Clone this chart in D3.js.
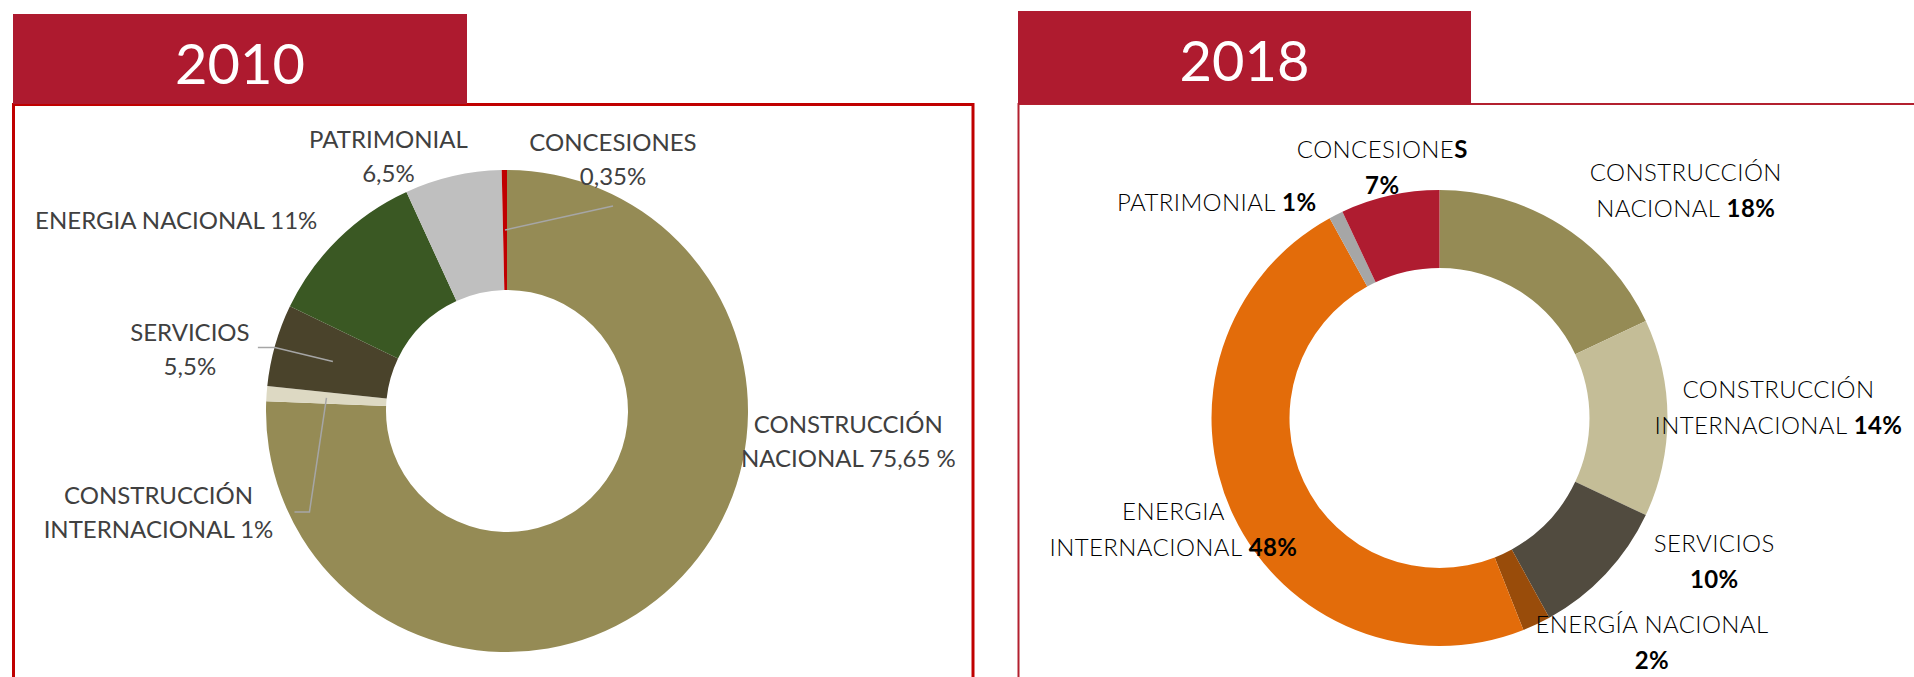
<!DOCTYPE html>
<html lang="es">
  <head>
    <meta charset="utf-8" />
    <title>Cartera por actividad 2010 / 2018</title>
    <script type="text/javascript" src="https://cdn.jsdelivr.net/npm/d3@7"></script>
    <style>
      body {
        margin: 0;
        background: #fff;
      }
      text {
        font-family: Lato, "Open Sans", sans-serif;
      }
      .year {
        fill: #fff;
        font-size: 56px;
      }
      .lbl2010 {
        fill: #404040;
        font-size: 24px;
      }
      .lbl2018 {
        fill: #000;
        font-size: 24px;
        font-weight: 300;
        letter-spacing: 0.4px;
      }
      .bold {
        font-weight: 700;
      }
      .leader {
        fill: none;
        stroke: #a6a6a6;
        stroke-width: 1.5px;
      }
    </style>
  </head>

  <body>
    <script>
      let w = 1914;
      let h = 677;

      // 2010
      let cats2010 = [
        "CONSTRUCCIÓN NACIONAL",
        "CONSTRUCCIÓN INTERNACIONAL",
        "SERVICIOS",
        "ENERGIA NACIONAL",
        "PATRIMONIAL",
        "CONCESIONES",
      ];
      let vals2010 = [75.65, 1, 5.5, 11, 6.5, 0.35];
      // each line: [normal part, bold part]
      let labels2010 = [
        [["CONSTRUCCIÓN", ""], ["NACIONAL 75,65 %", ""]],
        [["CONSTRUCCIÓN", ""], ["INTERNACIONAL 1%", ""]],
        [["SERVICIOS", ""], ["5,5%", ""]],
        [["ENERGIA NACIONAL 11%", ""]],
        [["PATRIMONIAL", ""], ["6,5%", ""]],
        [["CONCESIONES", ""], ["0,35%", ""]],
      ];

      // 2018
      let cats2018 = [
        "CONSTRUCCIÓN NACIONAL",
        "CONSTRUCCIÓN INTERNACIONAL",
        "SERVICIOS",
        "ENERGÍA NACIONAL",
        "ENERGIA INTERNACIONAL",
        "PATRIMONIAL",
        "CONCESIONES",
      ];
      let vals2018 = [18, 14, 10, 2, 48, 1, 7];
      let labels2018 = [
        [["CONSTRUCCIÓN", ""], ["NACIONAL ", "18%"]],
        [["CONSTRUCCIÓN", ""], ["INTERNACIONAL ", "14%"]],
        [["SERVICIOS", ""], ["", "10%"]],
        [["ENERGÍA NACIONAL", ""], ["", "2%"]],
        [["ENERGIA", ""], ["INTERNACIONAL ", "48%"]],
        [["PATRIMONIAL ", "1%"]],
        [["CONCESIONE", "S"], ["", "7%"]],
      ];

      let colors2010 = ["#958b55", "#ddd9c3", "#4a432b", "#3a5823", "#bfbfbf", "#c00000"];
      let colors2018 = ["#958b55", "#c4bd97", "#514b3f", "#994c0a", "#e36c0a", "#a6a6a6", "#af1c30"];

      // label placement: offset of the first baseline from the slice centroid,
      // optional leader line points (also relative to the centroid)
      let layout2010 = [
        { dx: 216, dy: -109 },
        { dx: -168, dy: 106, leader: [[-17, 114], [-32, 114]] },
        { dx: -143, dy: -21, leader: [[-58, -14], [-75, -14]] },
        { dx: -204, dy: -53 },
        { dx: -78, dy: -87 },
        { dx: 108, dy: -79, leader: [[108, -24]] },
      ];
      let layout2018 = [
        { dx: 145, dy: -77 },
        { dx: 150, dy: -20 },
        { dx: 137, dy: 5 },
        { dx: 132, dy: 44 },
        { dx: -95, dy: 22 },
        { dx: -137, dy: -39 },
        { dx: -16, dy: -76 },
      ];

      let svg = d3
        .select("body")
        .append("svg")
        .attr("width", w)
        .attr("height", h);

      function panel(opt) {
        // frame
        svg
          .append("rect")
          .attr("x", opt.frame[0])
          .attr("y", opt.frame[1])
          .attr("width", opt.frame[2])
          .attr("height", 700)
          .attr("fill", "none")
          .attr("stroke", opt.frameColor)
          .attr("stroke-width", opt.frameWidth);

        // year tab
        svg
          .append("rect")
          .attr("x", opt.tab[0])
          .attr("y", opt.tab[1])
          .attr("width", opt.tab[2])
          .attr("height", opt.tab[3])
          .attr("fill", opt.tabColor);

        svg
          .append("text")
          .attr("class", "year")
          .attr("x", opt.tab[0] + opt.tab[2] / 2)
          .attr("y", opt.yearY)
          .attr("text-anchor", "middle")
          .text(opt.year);

        let data = opt.cats.map((c, i) => ({ cat: c, v: opt.vals[i], i: i }));

        let pie = d3
          .pie()
          .sort(null)
          .value((d) => d.v);

        let arc = d3.arc().innerRadius(opt.r0).outerRadius(opt.r1);

        let g = svg
          .append("g")
          .attr("transform", `translate(${opt.cx},${opt.cy})`);

        let arcs = pie(data);

        g.selectAll("path.slice")
          .data(arcs)
          .join("path")
          .attr("class", "slice")
          .attr("d", arc)
          .attr("fill", (d) => opt.colors[d.data.i]);

        // leader lines
        arcs.forEach((d) => {
          let lay = opt.layout[d.data.i];
          if (!lay.leader) return;
          let c = arc.centroid(d);
          let pts = [c].concat(lay.leader.map((p) => [c[0] + p[0], c[1] + p[1]]));
          g.append("path").attr("class", "leader").attr("d", d3.line()(pts));
        });

        // labels
        arcs.forEach((d) => {
          let lay = opt.layout[d.data.i];
          let c = arc.centroid(d);
          let x = c[0] + lay.dx;
          let t = g
            .append("text")
            .attr("class", opt.lblClass)
            .attr("text-anchor", "middle")
            .attr("x", x)
            .attr("y", c[1] + lay.dy);
          opt.labels[d.data.i].forEach((line, k) => {
            let row = t
              .append("tspan")
              .attr("x", x)
              .attr("dy", k === 0 ? 0 : opt.lineH);
            if (line[0]) row.append("tspan").text(line[0]);
            if (line[1]) row.append("tspan").attr("class", "bold").text(line[1]);
          });
        });
      }

      panel({
        year: "2010",
        cats: cats2010,
        vals: vals2010,
        labels: labels2010,
        colors: colors2010,
        layout: layout2010,
        cx: 507,
        cy: 411,
        r0: 121,
        r1: 241,
        frame: [13.5, 104.5, 959.5],
        frameColor: "#c00000",
        frameWidth: 3,
        tab: [13, 14, 454, 90],
        tabColor: "#ae1a2f",
        yearY: 84,
        lblClass: "lbl2010",
        lineH: 34,
      });

      panel({
        year: "2018",
        cats: cats2018,
        vals: vals2018,
        labels: labels2018,
        colors: colors2018,
        layout: layout2018,
        cx: 1439.5,
        cy: 418,
        r0: 150,
        r1: 228,
        frame: [1018.5, 104, 1000],
        frameColor: "#b3202f",
        frameWidth: 2,
        tab: [1018, 11, 453, 93],
        tabColor: "#af1b2f",
        yearY: 81,
        lblClass: "lbl2018",
        lineH: 36,
      });
    </script>
  </body>
</html>
